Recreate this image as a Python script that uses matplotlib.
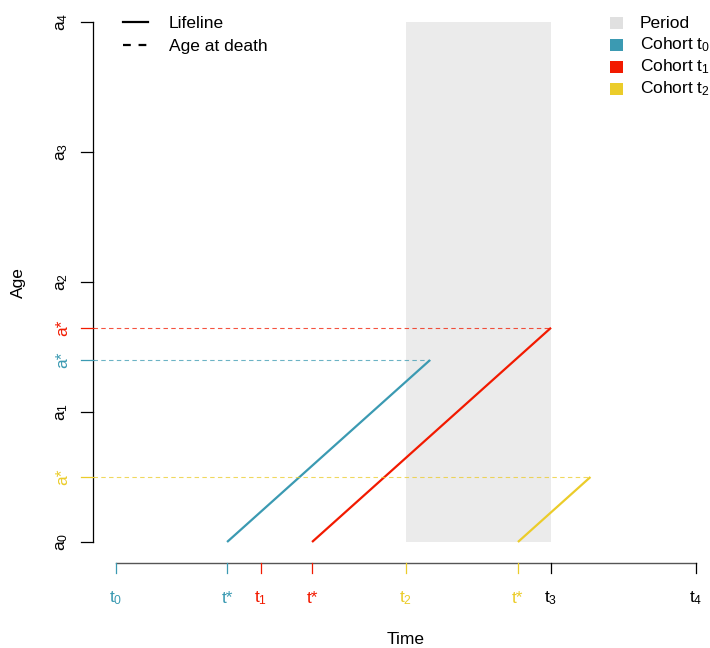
import matplotlib
matplotlib.use("Agg")
import matplotlib.pyplot as plt
from matplotlib.patches import Rectangle

plt.rcParams['font.family'] = ['Liberation Sans', 'DejaVu Sans']
plt.rcParams['mathtext.default'] = 'regular'

# data
time_ticks = [0, 1, 2, 3, 4]
time_labels = ['$t_0$', '$t_1$', '$t_2$', '$t_3$', '$t_4$']
age_ticks = [0, 1, 2, 3, 4]
age_labels = ['$a_0$', '$a_1$', '$a_2$', '$a_3$', '$a_4$']
cohorts = ['Cohort $t_0$', 'Cohort $t_1$', 'Cohort $t_2$']
birth_times = [0.766, 1.352, 2.772]   # t*
death_ages = [1.40, 1.648, 0.50]      # a*
period = (2, 3)

blue, red, yellow = '#3B9AB2', '#F21A00', '#EBCC2A'
cohort_cols = [blue, red, yellow]
time_tick_cols = [blue, red, yellow, 'black', 'black']
grey = '#EBEBEB'
fs = 12.5

fig = plt.figure(figsize=(7.10, 6.48), dpi=100)
ax = fig.add_axes([93 / 710, 1 - 563 / 648, (696 - 93) / 710, (563 - 22) / 648])
x0, y0 = -0.1586, -0.1615
ax.set_xlim(x0, 4)
ax.set_ylim(y0, 4)
ax.axis('off')

# period band
ax.add_patch(Rectangle((period[0], 0), period[1] - period[0], 4, color=grey, lw=0, zorder=0))

# lifelines and age-at-death lines
for t, a, c in zip(birth_times, death_ages, cohort_cols):
    ax.plot([t, t + a], [0, a], color=c, lw=1.6, solid_capstyle='butt')
    ax.plot([x0, t + a], [a, a], color=c, lw=0.8, ls=(0, (4, 3)), alpha=0.75)

# y axis
ax.plot([x0, x0], [0, 4], color='black', lw=0.9, clip_on=False)
tk = 0.08
for y, lab in zip(age_ticks, age_labels):
    ax.plot([x0 - tk, x0], [y, y], color='black', lw=0.9, clip_on=False)
    ax.text(-0.37, y, lab, rotation=90, ha='center', va='center', fontsize=fs)
for a, c in zip(death_ages, cohort_cols):
    ax.plot([x0 - tk, x0], [a, a], color=c, lw=0.9, clip_on=False)
    ax.text(-0.37, a, 'a*', rotation=90, ha='center', va='center', fontsize=fs, color=c)

# x axis
ax.plot([0, 4], [y0, y0], color='#555555', lw=1.0, clip_on=False)
tky = 0.077
for x, lab, c in zip(time_ticks, time_labels, time_tick_cols):
    ax.plot([x, x], [y0, y0 - tky], color=c, lw=0.9, clip_on=False)
    ax.text(x, -0.435, lab, ha='center', va='center', fontsize=fs, color=c)
for t, c in zip(birth_times, cohort_cols):
    ax.plot([t, t], [y0, y0 - tky], color=c, lw=0.9, clip_on=False)
    ax.text(t, -0.435, 't*', ha='center', va='center', fontsize=fs, color=c)

fig.text(406 / 710, 1 - 640 / 648, 'Time', ha='center', va='center', fontsize=fs)
fig.text(18 / 710, 1 - 283 / 648, 'Age', ha='center', va='center', fontsize=fs, rotation=90)

# legend: line types
for i, (lab, ls) in enumerate([('Lifeline', '-'), ('Age at death', (0, (3.5, 3.5)))]):
    y = 1 - (22 + 23 * i) / 648
    fig.add_artist(plt.Line2D([123 / 710, 148 / 710], [y, y], color='black', lw=1.6, ls=ls))
    fig.text(169 / 710, y - 2 / 648, lab, ha='left', va='center', fontsize=fs)

# legend: fills
fill_labels = ['Period'] + cohorts
fill_cols = ['#E0E0E0'] + cohort_cols
for i, (lab, c) in enumerate(zip(fill_labels, fill_cols)):
    yc = 23 + 22 * i
    fig.add_artist(Rectangle((610 / 710, 1 - (yc + 6) / 648), 13 / 710, 12 / 648,
                             color=c, lw=0, transform=fig.transFigure))
    fig.text(640 / 710, 1 - yc / 648, lab, ha='left', va='center', fontsize=fs)

fig.savefig('out.png', dpi=100)
